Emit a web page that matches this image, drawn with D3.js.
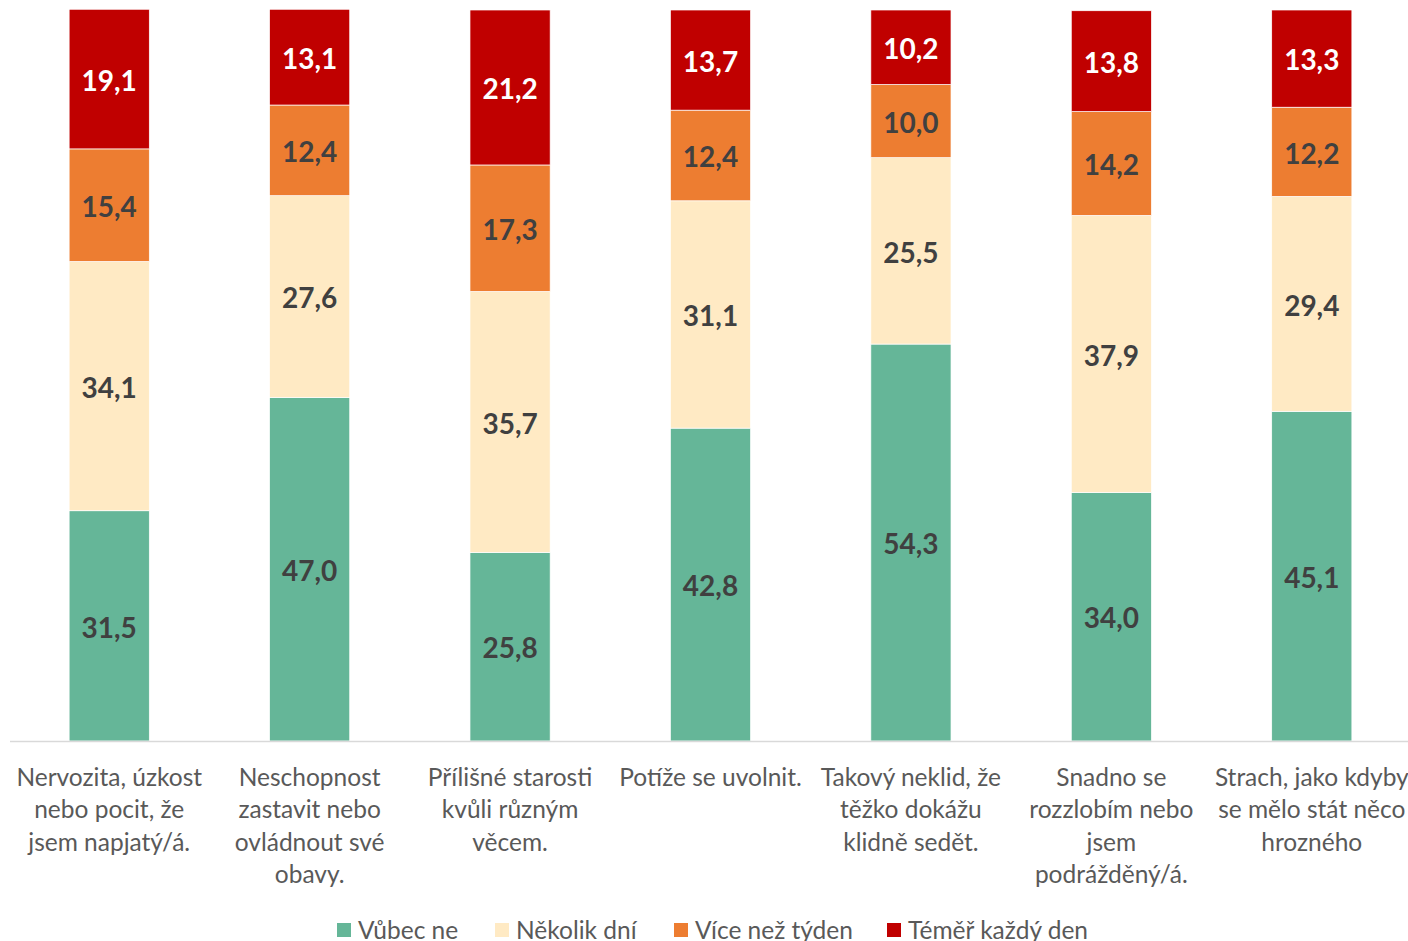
<!DOCTYPE html>
<html>
<head>
<meta charset="utf-8">
<script src="https://cdn.jsdelivr.net/npm/d3@7"></script>
<style>
	body { margin: 0; background: #fff; }
	#chart { width: 1408px; height: 941px; overflow: hidden; }
</style>
</head>
<body>
<div id="chart"></div>
<script>
// Categories (label lines as they wrap in the reference)
var categories = ['c1', 'c2', 'c3', 'c4', 'c5', 'c6', 'c7'];
var categoryLines = [
	['Nervozita, úzkost', 'nebo pocit, že', 'jsem napjatý/á.'],
	['Neschopnost', 'zastavit nebo', 'ovládnout své', 'obavy.'],
	['Přílišné starosti', 'kvůli různým', 'věcem.'],
	['Potíže se uvolnit.'],
	['Takový neklid, že', 'těžko dokážu', 'klidně sedět.'],
	['Snadno se', 'rozzlobím nebo', 'jsem', 'podrážděný/á.'],
	['Strach, jako kdyby', 'se mělo stát něco', 'hrozného']
];

// Series
var seriesNames = ['Vůbec ne', 'Několik dní', 'Více než týden', 'Téměř každý den'];
var vubecNe = [31.5, 47.0, 25.8, 42.8, 54.3, 34.0, 45.1];
var nekolikDni = [34.1, 27.6, 35.7, 31.1, 25.5, 37.9, 29.4];
var viceNezTyden = [15.4, 12.4, 17.3, 12.4, 10.0, 14.2, 12.2];
var temerKazdyDen = [19.1, 13.1, 21.2, 13.7, 10.2, 13.8, 13.3];

var colors = ['#65B698', '#FFEAC4', '#ED7D31', '#C00000'];
var labelColors = ['#404040', '#404040', '#404040', '#ffffff'];

var fullWidth = 1408, fullHeight = 941;

var svg = d3.select('#chart')
	.append('svg')
	.attr('width', fullWidth)
	.attr('height', fullHeight);

// Build table for the stack
var table = categories.map(function(c, i) {
	return { cat: c, s0: vubecNe[i], s1: nekolikDni[i], s2: viceNezTyden[i], s3: temerKazdyDen[i] };
});
var keys = ['s0', 's1', 's2', 's3'];
var stacked = d3.stack().keys(keys)(table);

var xScale = d3.scaleBand()
	.domain(categories)
	.range([9, 1412])
	.paddingInner(0.6)
	.paddingOuter(0.3);

var yScale = d3.scaleLinear()
	.domain([0, 100])
	.range([741, 10]);

var font = 'Lato, "Open Sans", sans-serif';

// Bars
var layers = svg.selectAll('g.layer')
	.data(stacked)
	.enter()
	.append('g')
	.attr('class', 'layer')
	.attr('fill', function(d, i) { return colors[i]; });

layers.selectAll('rect')
	.data(function(d) { return d; })
	.enter()
	.append('rect')
	.attr('x', function(d) { return xScale(d.data.cat); })
	.attr('y', function(d) { return yScale(d[1]); })
	.attr('width', xScale.bandwidth())
	.attr('height', function(d) { return yScale(d[0]) - yScale(d[1]); })
	.attr('stroke', '#ffffff')
	.attr('stroke-width', 0.7);

// Value labels
var fmt = function(v) { return d3.format('.1f')(v).replace('.', ','); };
layers.each(function(layer, li) {
	d3.select(this).selectAll('text')
		.data(layer)
		.enter()
		.append('text')
		.attr('x', function(d) { return xScale(d.data.cat) + xScale.bandwidth() / 2; })
		.attr('y', function(d) { return (yScale(d[0]) + yScale(d[1])) / 2; })
		.attr('dy', '0.42em')
		.attr('text-anchor', 'middle')
		.attr('font-family', font)
		.attr('font-weight', 'bold')
		.attr('font-size', '28px')
		.attr('fill', labelColors[li])
		.text(function(d) { return fmt(d[1] - d[0]); });
});

// Axis line
svg.append('line')
	.attr('x1', 10).attr('x2', 1408)
	.attr('y1', 741.5).attr('y2', 741.5)
	.attr('stroke', '#d9d9d9')
	.attr('stroke-width', 1.5);

// Category labels
var catG = svg.append('g');
categories.forEach(function(c, i) {
	var t = catG.append('text')
		.attr('x', xScale(c) + xScale.bandwidth() / 2)
		.attr('y', 786)
		.attr('text-anchor', 'middle')
		.attr('font-family', font)
		.attr('font-size', '24.5px')
		.attr('fill', '#595959');
	categoryLines[i].forEach(function(line, j) {
		t.append('tspan')
			.attr('x', xScale(c) + xScale.bandwidth() / 2)
			.attr('y', 786 + j * 32.3)
			.text(line);
	});
});

// Legend
var legendX = [337, 495, 674, 887];
var legend = svg.append('g');
seriesNames.forEach(function(name, i) {
	legend.append('rect')
		.attr('x', legendX[i])
		.attr('y', 923)
		.attr('width', 14)
		.attr('height', 14)
		.attr('fill', colors[i]);
	legend.append('text')
		.attr('x', legendX[i] + 21)
		.attr('y', 939)
		.attr('font-family', font)
		.attr('font-size', '24.5px')
		.attr('fill', '#595959')
		.text(name);
});
</script>
</body>
</html>
